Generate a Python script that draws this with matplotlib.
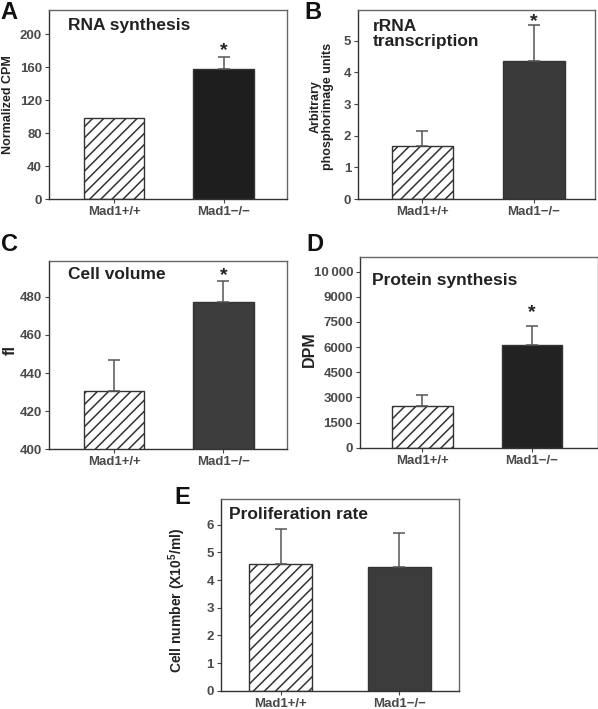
import matplotlib
matplotlib.use("Agg")
import matplotlib.pyplot as plt

plt.rcParams['font.family'] = ['Liberation Sans', 'DejaVu Sans']
plt.rcParams['mathtext.fontset'] = 'custom'
plt.rcParams['mathtext.rm'] = 'Liberation Sans:bold'
plt.rcParams['mathtext.default'] = 'rm'
plt.rcParams['hatch.linewidth'] = 1.1
plt.rcParams['hatch.color'] = '#2a2a2a'

# ---------------- data ----------------
groups = ["Mad1+/+", "Mad1\u2212/\u2212"]

rna_values = [98, 158]
rna_errors = [0, 14]
rna_ticks = [0, 40, 80, 120, 160, 200]

rrna_values = [1.68, 4.35]
rrna_errors = [0.47, 1.16]
rrna_ticks = [0, 1, 2, 3, 4, 5]

volume_values = [430.8, 477.4]
volume_errors = [15.9, 10.8]
volume_ticks = [400, 420, 440, 460, 480]

protein_values = [2490, 6130]
protein_errors = [640, 1150]
protein_ticks = [0, 1500, 3000, 4500, 6000, 7500, 9000, 10500]
protein_ticklabels = ["0", "1500", "3000", "4500", "6000", "7500", "9000", "10\u2009000"]

prolif_values = [4.59, 4.47]
prolif_errors = [1.24, 1.22]
prolif_ticks = [0, 1, 2, 3, 4, 5, 6]

W, H = 598, 709
fig = plt.figure(figsize=(W / 100, H / 100), dpi=100)


def make_axes(left, right, top, bottom):
    return fig.add_axes([left / W, 1 - bottom / H, (right - left) / W, (bottom - top) / H])


TICK_COLOR = '#4a4a4a'


def panel(ax, values, errors, ticks, ylim, xlim, width, dark, title, ylabel,
          label_x, label_y, star_off=None, ticklabels=None, title_xy=(0.08, 0.97),
          ylabel_size=9):
    x = [0, 1]
    ax.bar(x[0], values[0], width=width, color='white', edgecolor='#333333',
           linewidth=1.0, hatch='///', zorder=2)
    ax.bar(x[1], values[1], width=width, color=dark, edgecolor='#333333',
           linewidth=1.0, zorder=2)
    for xi, v, e in zip(x, values, errors):
        if e > 0:
            ax.errorbar(xi, v, yerr=[[0], [e]], fmt='none', ecolor='#555555',
                        elinewidth=1.1, capsize=4, capthick=1.1, zorder=3)
    ax.set_xlim(*xlim)
    ax.set_ylim(*ylim)
    ax.set_yticks(ticks)
    if ticklabels is not None:
        ax.set_yticklabels(ticklabels)
    ax.set_xticks(x)
    ax.set_xticklabels(groups)
    ax.tick_params(axis='both', direction='out', length=3, width=0.8,
                   colors='#444444', labelsize=9.5, pad=2)
    for lab in ax.get_xticklabels() + ax.get_yticklabels():
        lab.set_fontweight('bold')
        lab.set_color(TICK_COLOR)
    for s in ['left', 'bottom']:
        ax.spines[s].set_color('#333333')
        ax.spines[s].set_linewidth(1.0)
    for s in ['top', 'right']:
        ax.spines[s].set_color('#666666')
        ax.spines[s].set_linewidth(1.0)
    ax.text(title_xy[0], title_xy[1], title, transform=ax.transAxes, ha='left',
            va='top', fontsize=12.5, fontweight='bold', color='#222222',
            linespacing=1.0)
    ax.set_ylabel(ylabel, fontsize=ylabel_size, fontweight='bold', color='#222222',
                  linespacing=1.0)
    ax.yaxis.set_label_coords(label_x, label_y)
    if star_off is not None:
        top = values[1] + errors[1]
        ax.annotate('*', xy=(1, top), xytext=(0, star_off), textcoords='offset points',
                    ha='center', va='baseline', fontsize=14, fontweight='bold',
                    color='#222222')


def letter(x, y, s):
    fig.text(x / W, 1 - y / H, s, ha='left', va='top', fontsize=17,
             fontweight='bold', color='#111111')


axA = make_axes(49, 287, 10, 199.3)
panel(axA, rna_values, rna_errors, rna_ticks, (0, 229.5), (-0.594, 1.58), 0.55,
      '#1e1e1e', 'RNA synthesis', 'Normalized CPM', -0.149, 0.5, star_off=2,
      title_xy=(0.08, 0.96))

axB = make_axes(358.3, 595, 10, 199)
panel(axB, rrna_values, rrna_errors, rrna_ticks, (0, 5.97), (-0.576, 1.551), 0.554,
      '#3a3a3a', 'rRNA\ntranscription', 'Arbitrary\nphosphorimage units', -0.103, 0.49,
      star_off=-1, title_xy=(0.06, 0.95))

axC = make_axes(49.3, 287, 260.7, 449.3)
panel(axC, volume_values, volume_errors, volume_ticks, (400, 499), (-0.591, 1.58), 0.55,
      '#3d3d3d', 'Cell volume', 'fl', -0.133, 0.527, star_off=1, ylabel_size=12,
      title_xy=(0.079, 0.965))

axD = make_axes(360, 597.7, 257.3, 447.7)
panel(axD, protein_values, protein_errors, protein_ticks, (0, 11360), (-0.572, 1.604), 0.55,
      '#222222', 'Protein synthesis', 'DPM', -0.182, 0.517, star_off=6,
      ticklabels=protein_ticklabels, ylabel_size=11.5, title_xy=(0.05, 0.915))

axE = make_axes(220.7, 459.3, 499, 690.7)
panel(axE, prolif_values, prolif_errors, prolif_ticks, (0, 6.93), (-0.506, 1.504), 0.53,
      '#3c3c3c', 'Proliferation rate', 'Cell number (X10$^{5}$/ml)', -0.136, 0.473,
      ylabel_size=10, title_xy=(0.035, 0.96))

letter(0, 1, 'A')
letter(304, 1, 'B')
letter(1, 233, 'C')
letter(306, 233, 'D')
letter(174, 486, 'E')

fig.savefig('out.png', dpi=100)
